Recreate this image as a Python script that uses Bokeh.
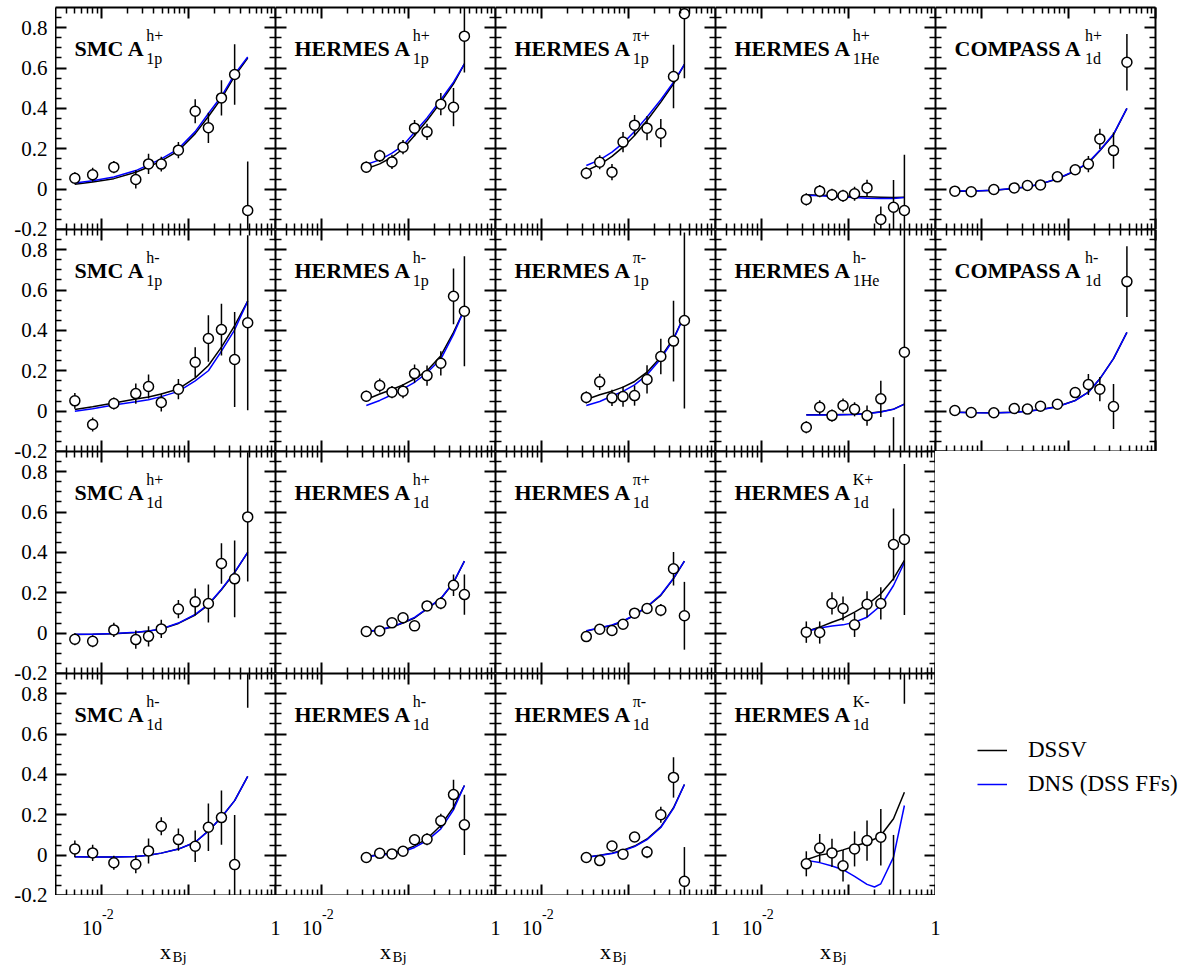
import math
from bokeh.plotting import figure
from bokeh.models import (ColumnDataSource, FixedTicker, LinearAxis, LogAxis, Range1d,
                          Label, Legend, LegendItem, CustomJSTickFormatter)
from bokeh.layouts import column, row
from bokeh.embed import file_html
from bokeh.resources import INLINE

# ------------------------------------------------------------------ data
X_SMC = [0.005, 0.008, 0.014, 0.025, 0.035, 0.049, 0.077, 0.12, 0.17, 0.24, 0.34, 0.48]
X_HER = [0.033, 0.047, 0.065, 0.087, 0.118, 0.164, 0.236, 0.33, 0.44]
X_COM = [0.005, 0.0077, 0.014, 0.024, 0.034, 0.048, 0.075, 0.12, 0.17, 0.23, 0.33, 0.47]
X_KM_CURVE = [0.033, 0.047, 0.065, 0.087, 0.118, 0.164, 0.2, 0.236, 0.33, 0.44]

# row 1
SMC_P_HP_Y = [0.054, 0.071, 0.109, 0.048, 0.125, 0.124, 0.193, 0.386, 0.304, 0.452, 0.568, -0.106]
SMC_P_HP_E = [0.03, 0.035, 0.03, 0.045, 0.05, 0.037, 0.04, 0.06, 0.075, 0.087, 0.15, 0.243]
SMC_P_HP_DSSV = [0.024, 0.035, 0.052, 0.084, 0.11, 0.14, 0.19, 0.275, 0.36, 0.45, 0.56, 0.65]
SMC_P_HP_DNS = [0.03, 0.042, 0.06, 0.092, 0.12, 0.15, 0.2, 0.285, 0.375, 0.46, 0.57, 0.655]

HER_P_HP_Y = [0.109, 0.165, 0.135, 0.208, 0.302, 0.284, 0.421, 0.406, 0.758]
HER_P_HP_E = [0.028, 0.03, 0.035, 0.035, 0.04, 0.04, 0.055, 0.095, 0.18]
HER_P_HP_DSSV = [0.101, 0.125, 0.158, 0.2, 0.266, 0.34, 0.431, 0.522, 0.621]
HER_P_HP_DNS = [0.122, 0.145, 0.178, 0.216, 0.282, 0.353, 0.443, 0.53, 0.621]

HER_P_PIP_Y = [0.079, 0.133, 0.084, 0.233, 0.317, 0.302, 0.277, 0.558, 0.869]
HER_P_PIP_E = [0.03, 0.035, 0.04, 0.05, 0.05, 0.06, 0.07, 0.157, 0.32]
HER_P_PIP_DSSV = [0.092, 0.122, 0.162, 0.208, 0.266, 0.34, 0.431, 0.522, 0.618]
HER_P_PIP_DNS = [0.117, 0.145, 0.183, 0.228, 0.286, 0.357, 0.443, 0.53, 0.618]

HER_HE_HP_Y = [-0.051, -0.010, -0.028, -0.033, -0.023, 0.006, -0.15, -0.09, -0.106]
HER_HE_HP_E = [0.03, 0.03, 0.03, 0.03, 0.035, 0.04, 0.064, 0.135, 0.276]
HER_HE_HP_DSSV = [-0.028, -0.030, -0.032, -0.034, -0.036, -0.038, -0.040, -0.042, -0.040]
HER_HE_HP_DNS = [-0.030, -0.033, -0.036, -0.039, -0.042, -0.045, -0.047, -0.046, -0.042]

COM_D_HP_Y = [-0.010, -0.013, -0.002, 0.006, 0.018, 0.021, 0.061, 0.096, 0.124, 0.249, 0.191, 0.629]
COM_D_HP_E = [0.008, 0.008, 0.008, 0.01, 0.01, 0.012, 0.015, 0.02, 0.04, 0.05, 0.09, 0.14]
COM_D_HP_DSSV = [-0.010, -0.010, -0.006, 0.003, 0.011, 0.025, 0.05, 0.09, 0.13, 0.19, 0.27, 0.40]
COM_D_HP_DNS = [-0.008, -0.009, -0.005, 0.004, 0.012, 0.026, 0.052, 0.092, 0.133, 0.193, 0.273, 0.40]

# row 2
SMC_P_HM_Y = [0.051, -0.066, 0.038, 0.087, 0.122, 0.043, 0.109, 0.242, 0.36, 0.404, 0.256, 0.438]
SMC_P_HM_E = [0.039, 0.035, 0.03, 0.05, 0.06, 0.045, 0.05, 0.074, 0.115, 0.128, 0.235, 0.434]
SMC_P_HM_DSSV = [0.008, 0.022, 0.04, 0.06, 0.07, 0.085, 0.11, 0.165, 0.226, 0.317, 0.424, 0.545]
SMC_P_HM_DNS = [0.0, 0.012, 0.03, 0.046, 0.056, 0.072, 0.098, 0.15, 0.2, 0.297, 0.403, 0.545]

HER_P_HM_Y = [0.074, 0.127, 0.094, 0.099, 0.186, 0.176, 0.237, 0.569, 0.495]
HER_P_HM_E = [0.027, 0.035, 0.03, 0.035, 0.045, 0.05, 0.06, 0.138, 0.272]
HER_P_HM_DSSV = [0.058, 0.085, 0.107, 0.13, 0.16, 0.2, 0.275, 0.39, 0.504]
HER_P_HM_DNS = [0.028, 0.053, 0.081, 0.11, 0.143, 0.19, 0.258, 0.38, 0.504]

HER_P_PIM_Y = [0.068, 0.145, 0.066, 0.072, 0.077, 0.157, 0.271, 0.347, 0.449]
HER_P_PIM_E = [0.03, 0.04, 0.04, 0.05, 0.05, 0.07, 0.088, 0.2, 0.436]
HER_P_PIM_DSSV = [0.058, 0.081, 0.099, 0.119, 0.147, 0.193, 0.268, 0.36, 0.474]
HER_P_PIM_DNS = [0.028, 0.048, 0.075, 0.098, 0.13, 0.18, 0.26, 0.355, 0.474]

HER_HE_HM_Y = [-0.08, 0.019, -0.022, 0.028, 0.009, -0.022, 0.061, -0.25, 0.292]
HER_HE_HM_E = [0.03, 0.035, 0.03, 0.035, 0.035, 0.05, 0.09, 0.22, 0.7]
HER_HE_HM_DSSV = [-0.018, -0.018, -0.018, -0.017, -0.016, -0.012, -0.003, 0.01, 0.035]
HER_HE_HM_DNS = [-0.019, -0.019, -0.019, -0.018, -0.017, -0.013, -0.004, 0.009, 0.035]

COM_D_HM_Y = [0.003, -0.007, -0.008, 0.013, 0.01, 0.024, 0.034, 0.092, 0.132, 0.109, 0.023, 0.642]
COM_D_HM_E = [0.008, 0.008, 0.008, 0.01, 0.01, 0.012, 0.015, 0.025, 0.052, 0.06, 0.112, 0.175]
COM_D_HM_DSSV = [-0.005, -0.007, -0.008, -0.005, 0.0, 0.008, 0.023, 0.053, 0.094, 0.16, 0.26, 0.39]
COM_D_HM_DNS = [-0.006, -0.008, -0.009, -0.006, -0.001, 0.007, 0.022, 0.052, 0.094, 0.16, 0.26, 0.39]

# row 3
SMC_D_HP_Y = [-0.030, -0.040, 0.016, -0.032, -0.016, 0.021, 0.119, 0.155, 0.147, 0.345, 0.269, 0.576]
SMC_D_HP_E = [0.03, 0.03, 0.035, 0.045, 0.05, 0.045, 0.045, 0.066, 0.094, 0.1, 0.19, 0.32]
SMC_D_HP_DSSV = [-0.007, -0.006, -0.003, 0.003, 0.01, 0.02, 0.048, 0.09, 0.14, 0.215, 0.3, 0.4]
SMC_D_HP_DNS = [-0.006, -0.005, -0.002, 0.004, 0.011, 0.021, 0.05, 0.093, 0.143, 0.218, 0.302, 0.4]

HER_D_HP_Y = [0.008, 0.011, 0.051, 0.076, 0.036, 0.135, 0.148, 0.237, 0.191]
HER_D_HP_E = [0.01, 0.01, 0.015, 0.015, 0.02, 0.025, 0.03, 0.053, 0.1]
HER_D_HP_DSSV = [0.005, 0.016, 0.03, 0.05, 0.075, 0.12, 0.17, 0.25, 0.357]
HER_D_HP_DNS = [0.007, 0.018, 0.032, 0.052, 0.078, 0.122, 0.172, 0.252, 0.357]

HER_D_PIP_Y = [-0.017, 0.019, 0.013, 0.044, 0.099, 0.122, 0.114, 0.319, 0.086]
HER_D_PIP_E = [0.01, 0.015, 0.015, 0.02, 0.02, 0.025, 0.03, 0.083, 0.168]
HER_D_PIP_DSSV = [0.01, 0.025, 0.038, 0.058, 0.088, 0.13, 0.187, 0.27, 0.357]
HER_D_PIP_DNS = [0.012, 0.027, 0.04, 0.06, 0.09, 0.132, 0.19, 0.272, 0.357]

HER_D_KP_Y = [0.005, 0.003, 0.147, 0.122, 0.041, 0.143, 0.147, 0.439, 0.464]
HER_D_KP_E = [0.053, 0.055, 0.055, 0.06, 0.06, 0.064, 0.08, 0.178, 0.374]
HER_D_KP_DSSV = [0.008, 0.03, 0.054, 0.074, 0.104, 0.14, 0.195, 0.27, 0.36]
HER_D_KP_DNS = [0.008, 0.025, 0.035, 0.041, 0.054, 0.079, 0.137, 0.236, 0.35]

# row 4
SMC_D_HM_Y = [0.031, 0.011, -0.038, -0.045, 0.021, 0.143, 0.077, 0.044, 0.138, 0.186, -0.047, 1.1]
SMC_D_HM_E = [0.041, 0.04, 0.035, 0.045, 0.062, 0.045, 0.055, 0.078, 0.118, 0.134, 0.246, 0.37]
SMC_D_HM_DSSV = [-0.008, -0.009, -0.009, -0.007, 0.0, 0.01, 0.03, 0.064, 0.12, 0.188, 0.27, 0.39]
SMC_D_HM_DNS = [-0.008, -0.009, -0.009, -0.007, 0.0, 0.01, 0.03, 0.064, 0.12, 0.188, 0.27, 0.39]

HER_D_HM_Y = [-0.012, 0.009, 0.006, 0.019, 0.076, 0.079, 0.17, 0.3, 0.15]
HER_D_HM_E = [0.01, 0.015, 0.015, 0.02, 0.02, 0.03, 0.035, 0.074, 0.149]
HER_D_HM_DSSV = [-0.007, 0.003, 0.01, 0.023, 0.046, 0.081, 0.147, 0.238, 0.345]
HER_D_HM_DNS = [-0.008, 0.0, 0.006, 0.017, 0.038, 0.072, 0.13, 0.225, 0.345]

HER_D_PIM_Y = [-0.012, -0.027, 0.045, 0.005, 0.09, 0.015, 0.2, 0.385, -0.13]
HER_D_PIM_E = [0.01, 0.01, 0.015, 0.02, 0.02, 0.03, 0.04, 0.1, 0.17]
HER_D_PIM_DSSV = [-0.01, 0.0, 0.01, 0.025, 0.045, 0.08, 0.14, 0.235, 0.35]
HER_D_PIM_DNS = [-0.011, -0.002, 0.008, 0.022, 0.042, 0.077, 0.137, 0.232, 0.35]

HER_D_KM_Y = [-0.043, 0.035, 0.011, -0.053, 0.031, 0.072, 0.089, -0.25, 1.05]
HER_D_KM_E = [0.062, 0.07, 0.07, 0.078, 0.087, 0.1, 0.14, 0.35, 0.3]
HER_D_KM_DSSV = [-0.023, 0.0, 0.011, 0.026, 0.044, 0.064, 0.08, 0.097, 0.18, 0.312]
HER_D_KM_DNS = [-0.026, -0.037, -0.054, -0.072, -0.105, -0.145, -0.158, -0.142, -0.01, 0.246]

# (row, col, experiment, superscript, subscript, x, y, err, x curve, DSSV, DNS)
PANELS = [
    (0, 0, "SMC", "h+", "1p", X_SMC, SMC_P_HP_Y, SMC_P_HP_E, X_SMC, SMC_P_HP_DSSV, SMC_P_HP_DNS),
    (0, 1, "HERMES", "h+", "1p", X_HER, HER_P_HP_Y, HER_P_HP_E, X_HER, HER_P_HP_DSSV, HER_P_HP_DNS),
    (0, 2, "HERMES", "\u03c0+", "1p", X_HER, HER_P_PIP_Y, HER_P_PIP_E, X_HER, HER_P_PIP_DSSV, HER_P_PIP_DNS),
    (0, 3, "HERMES", "h+", "1He", X_HER, HER_HE_HP_Y, HER_HE_HP_E, X_HER, HER_HE_HP_DSSV, HER_HE_HP_DNS),
    (0, 4, "COMPASS", "h+", "1d", X_COM, COM_D_HP_Y, COM_D_HP_E, X_COM, COM_D_HP_DSSV, COM_D_HP_DNS),
    (1, 0, "SMC", "h-", "1p", X_SMC, SMC_P_HM_Y, SMC_P_HM_E, X_SMC, SMC_P_HM_DSSV, SMC_P_HM_DNS),
    (1, 1, "HERMES", "h-", "1p", X_HER, HER_P_HM_Y, HER_P_HM_E, X_HER, HER_P_HM_DSSV, HER_P_HM_DNS),
    (1, 2, "HERMES", "\u03c0-", "1p", X_HER, HER_P_PIM_Y, HER_P_PIM_E, X_HER, HER_P_PIM_DSSV, HER_P_PIM_DNS),
    (1, 3, "HERMES", "h-", "1He", X_HER, HER_HE_HM_Y, HER_HE_HM_E, X_HER, HER_HE_HM_DSSV, HER_HE_HM_DNS),
    (1, 4, "COMPASS", "h-", "1d", X_COM, COM_D_HM_Y, COM_D_HM_E, X_COM, COM_D_HM_DSSV, COM_D_HM_DNS),
    (2, 0, "SMC", "h+", "1d", X_SMC, SMC_D_HP_Y, SMC_D_HP_E, X_SMC, SMC_D_HP_DSSV, SMC_D_HP_DNS),
    (2, 1, "HERMES", "h+", "1d", X_HER, HER_D_HP_Y, HER_D_HP_E, X_HER, HER_D_HP_DSSV, HER_D_HP_DNS),
    (2, 2, "HERMES", "\u03c0+", "1d", X_HER, HER_D_PIP_Y, HER_D_PIP_E, X_HER, HER_D_PIP_DSSV, HER_D_PIP_DNS),
    (2, 3, "HERMES", "K+", "1d", X_HER, HER_D_KP_Y, HER_D_KP_E, X_HER, HER_D_KP_DSSV, HER_D_KP_DNS),
    (3, 0, "SMC", "h-", "1d", X_SMC, SMC_D_HM_Y, SMC_D_HM_E, X_SMC, SMC_D_HM_DSSV, SMC_D_HM_DNS),
    (3, 1, "HERMES", "h-", "1d", X_HER, HER_D_HM_Y, HER_D_HM_E, X_HER, HER_D_HM_DSSV, HER_D_HM_DNS),
    (3, 2, "HERMES", "\u03c0-", "1d", X_HER, HER_D_PIM_Y, HER_D_PIM_E, X_HER, HER_D_PIM_DSSV, HER_D_PIM_DNS),
    (3, 3, "HERMES", "K-", "1d", X_HER, HER_D_KM_Y, HER_D_KM_E, X_KM_CURVE, HER_D_KM_DSSV, HER_D_KM_DNS),
]

LEGEND_LABELS = ["DSSV", "DNS (DSS FFs)"]
X_TITLE_MAIN, X_TITLE_SUB = "x", "Bj"
X_TICK_LABELS = [(0.01, "10", "-2"), (1.0, "1", "")]

# ------------------------------------------------------------------ style
FONT = "Liberation Serif"
XMIN, XMAX = 0.003, 1.0
YMIN, YMAX = -0.2, 0.9
YSPAN = YMAX - YMIN
FW, FH = 220, 222          # frame size of a panel
LB, TB, SH, RB = 54, 7, 72, 44   # label column, top border, x-label strip, legend extra width
NROWS = 4
SHIFT = 15                 # x-label strips are offset so that no label straddles two strips
DEC_PX = FW / math.log10(XMAX / XMIN)
KSHIFT = 10 ** (SHIFT / DEC_PX)
XMID = 10 ** ((math.log10(XMIN) + math.log10(XMAX)) / 2)

Y_MAJOR = [-0.2, 0.0, 0.2, 0.4, 0.6, 0.8]
Y_MINOR = [round(-0.2 + 0.05 * i, 2) for i in range(22) if i % 4]
X_MAJOR = [0.01, 0.1, 1.0]
X_MINOR = [m * 10.0 ** k for k in (-3, -2, -1) for m in range(2, 10) if m * 10.0 ** k > 0.0031]

# Times-Bold advance widths (Liberation Serif Bold is metric compatible)
BOLD_W = {'S': 556, 'M': 944, 'C': 722, ' ': 250, 'A': 722, 'H': 778, 'E': 667,
          'R': 722, 'O': 778, 'P': 611}
TITLE_SIZE = 22
SUB_SIZE = 16
TICK_SIZE = "21px"


def text_width_bold(s, size):
    return sum(BOLD_W[ch] for ch in s) / 1000.0 * size


def style_axis(ax):
    ax.major_tick_in = 11
    ax.major_tick_out = 0
    ax.minor_tick_in = 6
    ax.minor_tick_out = 0
    ax.axis_line_width = 2
    ax.axis_line_color = "black"
    ax.major_tick_line_width = 2
    ax.major_tick_line_color = "black"
    ax.minor_tick_line_width = 1.5
    ax.minor_tick_line_color = "black"
    ax.axis_label = None
    ax.major_label_text_color = None
    ax.major_label_text_font_size = "0px"
    ax.major_label_standoff = 0


def add_label(p, x, y, text, size, align="left", baseline="alphabetic", bold=False,
              x_units="screen", y_units="screen", x_offset=0):
    p.add_layout(Label(x=x, y=y, x_units=x_units, y_units=y_units, text=text,
                       x_offset=x_offset,
                       text_font=FONT, text_font_size=f"{size}px",
                       text_font_style="bold" if bold else "normal",
                       text_align=align, text_baseline=baseline, text_color="black"))


def bare_figure(width, height, **kw):
    f = figure(width=width, height=height, output_backend="svg", toolbar_location=None,
               x_axis_location=None, y_axis_location=None, **kw)
    f.outline_line_color = None
    f.grid.visible = False
    return f


def make_panel(r, c, exp, sup, sub, x, y, e, xc, dssv, dns):
    top = TB if r == 0 else 0
    right = RB if c == 4 else 0
    p = bare_figure(FW + right, FH + top,
                    x_axis_type="log", x_range=Range1d(XMIN, XMAX), y_range=Range1d(YMIN, YMAX),
                    min_border_left=0, min_border_right=right,
                    min_border_top=top, min_border_bottom=0)

    xt = FixedTicker(ticks=X_MAJOR, minor_ticks=X_MINOR)
    yt = FixedTicker(ticks=Y_MAJOR, minor_ticks=Y_MINOR)
    for place in ("below", "above"):
        ax = LogAxis(ticker=xt)
        style_axis(ax)
        p.add_layout(ax, place)
    for place in ("left", "right"):
        ax = LinearAxis(ticker=yt)
        style_axis(ax)
        p.add_layout(ax, place)

    # theory curves
    p.line(xc, dssv, line_color="black", line_width=1.5)
    p.line(xc, dns, line_color="#0000ff", line_width=1.5)
    # data with error bars
    src = ColumnDataSource(dict(x=x, y=y,
                                lo=[yy - ee for yy, ee in zip(y, e)],
                                hi=[yy + ee for yy, ee in zip(y, e)]))
    p.segment(x0="x", y0="lo", x1="x", y1="hi", source=src, line_color="black", line_width=1.5)
    p.scatter("x", "y", source=src, marker="circle", size=10, fill_color="white",
              line_color="black", line_width=1.5)

    # panel title  "EXP A^{sup}_{sub}"
    main = exp + " A"
    add_label(p, 19, FH - 41, main, TITLE_SIZE, bold=True)
    xs = 19 + text_width_bold(main, TITLE_SIZE) + 1.5
    add_label(p, xs, FH - 28, sup, SUB_SIZE)
    add_label(p, xs, FH - 51, sub, SUB_SIZE)
    return p


def make_strip(c):
    """Strip under a bottom-row panel carrying its x tick labels and x title.
    It uses the same log scale as the panel above (same pixels per decade)."""
    if c == 0:
        width, xr = FW + SHIFT, Range1d(XMIN, XMAX * KSHIFT)
    else:
        width, xr = FW, Range1d(XMIN * KSHIFT, XMAX * KSHIFT)
    s = bare_figure(width, SH, x_axis_type="log", x_range=xr, y_range=Range1d(-SH, 0),
                    min_border_left=0, min_border_right=0, min_border_top=0, min_border_bottom=0)
    for xv, main, sup in X_TICK_LABELS:
        if sup:
            add_label(s, xv, -32.7, main, 20, align="right", x_units="data", y_units="data", x_offset=1)
            add_label(s, xv, -18, sup, 14, align="left", x_units="data", y_units="data", x_offset=1)
        else:
            add_label(s, xv, -32.7, main, 20, align="center", x_units="data", y_units="data")
    add_label(s, XMID, -56, X_TITLE_MAIN, 22, align="center", x_units="data", y_units="data")
    add_label(s, XMID, -61.5, X_TITLE_SUB, 15, align="left", x_units="data", y_units="data", x_offset=7)
    return s


# y tick labels of the first column: one tall axis covering the four stacked rows
lab = bare_figure(LB + 1, TB + NROWS * FH + SH,
                  x_range=Range1d(0, 1),
                  y_range=Range1d(YMIN - (NROWS - 1) * YSPAN - 1e-6, YMAX),
                  min_border_left=LB, min_border_right=0, min_border_top=TB, min_border_bottom=SH)
lab_axis = LinearAxis(
    ticker=FixedTicker(ticks=[t - YSPAN * r for r in range(NROWS) for t in Y_MAJOR]),
    formatter=CustomJSTickFormatter(code="""
let v = tick;
while (v < -0.2 - 1e-6) v += 1.1;
v = Math.round(v * 10) / 10;
if (Math.abs(v) < 1e-9) return "0";
return v.toFixed(1);
"""))
lab_axis.axis_line_color = None
lab_axis.major_tick_line_color = None
lab_axis.minor_tick_line_color = None
lab_axis.major_tick_in = 0
lab_axis.major_tick_out = 0
lab_axis.major_label_text_font = FONT
lab_axis.major_label_text_font_size = TICK_SIZE
lab_axis.major_label_text_color = "black"
lab_axis.major_label_standoff = 7
lab.add_layout(lab_axis, "left")

figs = {}
for spec in PANELS:
    figs[(spec[0], spec[1])] = make_panel(*spec)
strips = [make_strip(c) for c in range(4)]

# legend panel (bottom-right cell, spans last panel row and the label strip)
LH = FH + SH
LW = FW + RB - SHIFT
lg = bare_figure(LW, LH, x_range=Range1d(0, 1), y_range=Range1d(0, 1),
                 min_border_left=0, min_border_right=0, min_border_top=0, min_border_bottom=0)
NAN = float("nan")
r_black = lg.line(x=[NAN], y=[NAN], line_color="black", line_width=1.5)
r_blue = lg.line(x=[NAN], y=[NAN], line_color="#0000ff", line_width=1.5)
legend = Legend(items=[LegendItem(label=LEGEND_LABELS[0], renderers=[r_black]),
                       LegendItem(label=LEGEND_LABELS[1], renderers=[r_blue])],
                location=(42 - SHIFT, LH - 124), orientation="vertical",
                glyph_width=30, glyph_height=26, label_height=26, label_standoff=21,
                spacing=8, padding=0, margin=0,
                border_line_color=None, background_fill_alpha=0,
                label_text_font=FONT, label_text_font_size="23px", label_text_color="black")
lg.add_layout(legend)

rows = []
for r in range(NROWS - 1):
    items = [figs[(r, c)] for c in range(5) if (r, c) in figs]
    rows.append(row(*items, spacing=0))
bottom_block = column(row(*[figs[(NROWS - 1, c)] for c in range(4)], spacing=0),
                      row(*strips, spacing=0), spacing=0)
rows.append(row(bottom_block, lg, spacing=0))
grid = column(*rows, spacing=0)
layout = row(lab, grid, spacing=0)

open("out.html", "w").write(file_html(layout, INLINE))
